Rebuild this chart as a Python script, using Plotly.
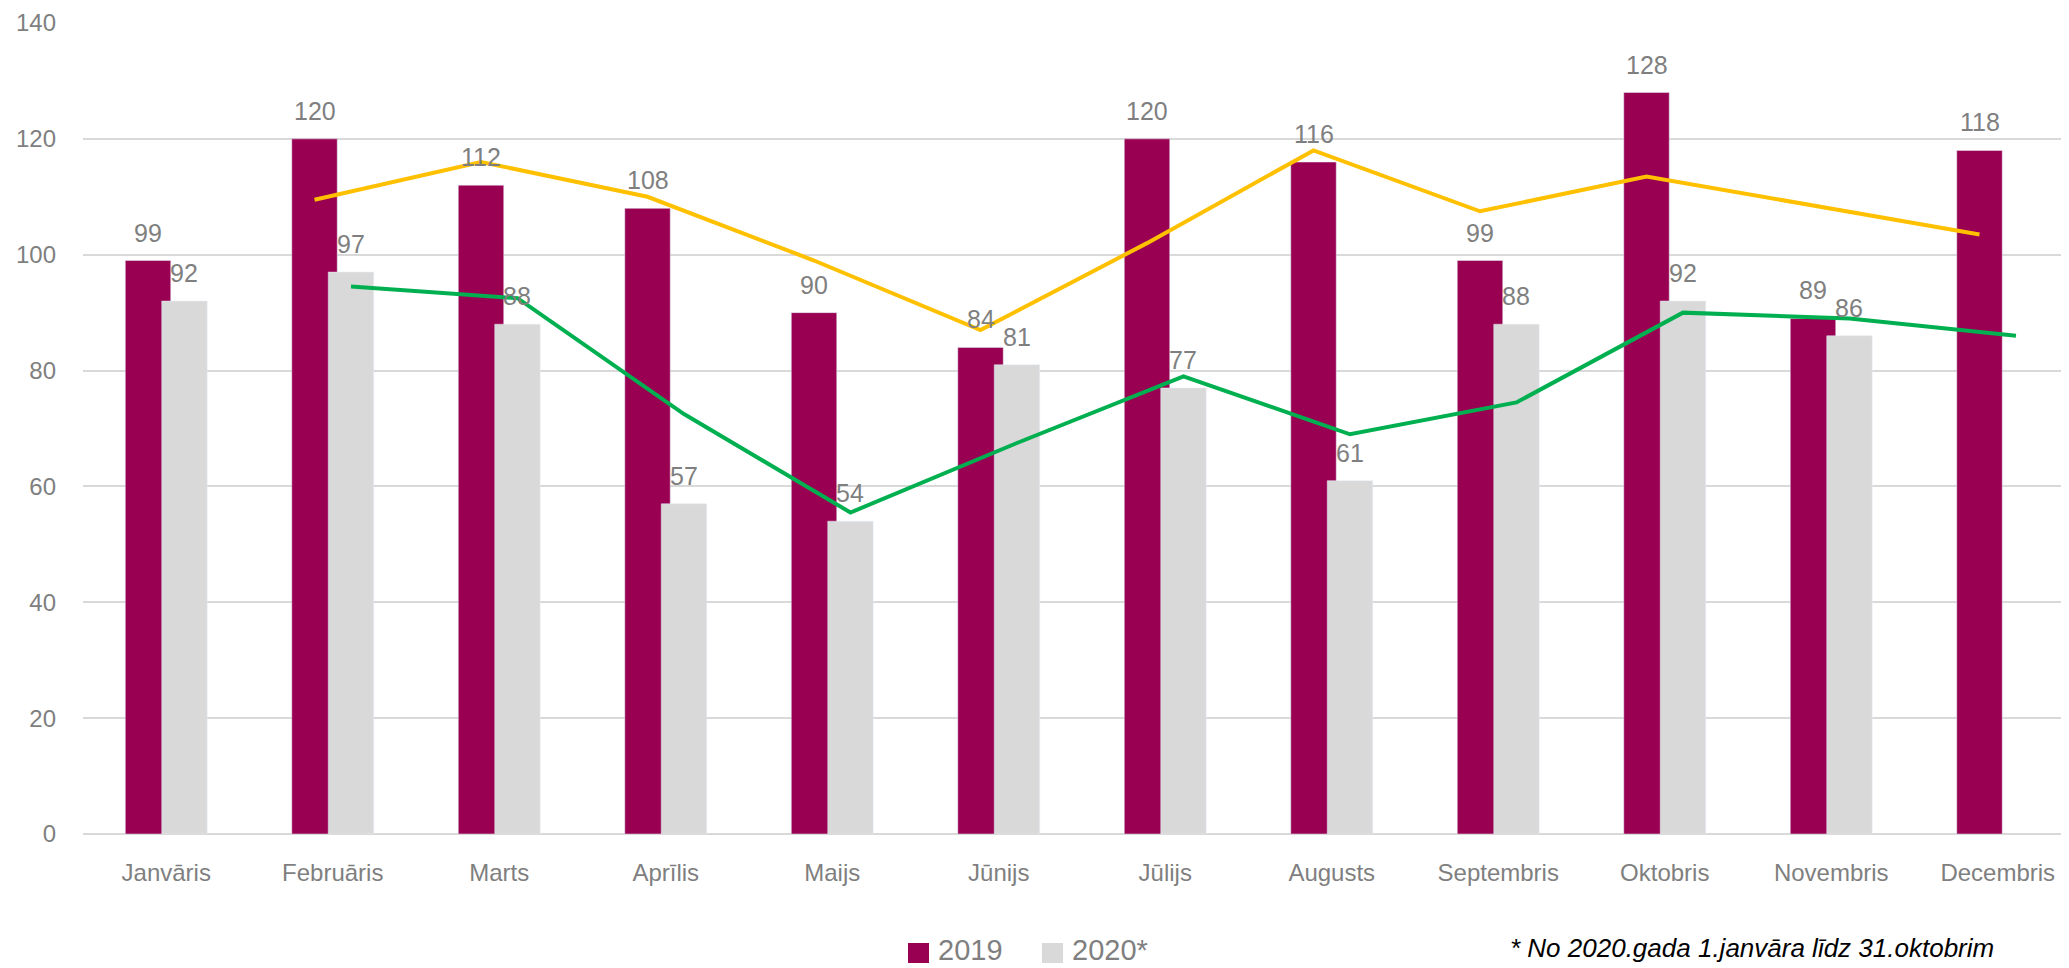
import plotly.graph_objects as go

months = ["Janvāris", "Februāris", "Marts", "Aprīlis", "Maijs", "Jūnijs",
          "Jūlijs", "Augusts", "Septembris", "Oktobris", "Novembris", "Decembris"]
values_2019 = [99, 120, 112, 108, 90, 84, 120, 116, 99, 128, 89, 118]
values_2020 = [92, 97, 88, 57, 54, 81, 77, 61, 88, 92, 86, None]
# two-period moving-average trend lines (Feb..Dec)
trend_2019 = [109.5, 116, 110, 99, 87, 102, 118, 107.5, 113.5, 108.5, 103.5]
trend_2020 = [94.5, 92.5, 72.5, 55.5, 67.5, 79, 69, 74.5, 90, 89, 86]
y_ticks = [0, 20, 40, 60, 80, 100, 120, 140]

C2019 = "#990052"
C2020 = "#D9D9D9"
CY = "#FFC000"
CG = "#00B050"
TXT = "#7F7F7F"
FONT = "Liberation Sans"

BW = 0.273
OFF19 = -0.246
OFF20 = -0.027
CEN19 = OFF19 + BW / 2
CEN20 = OFF20 + BW / 2

idx = list(range(len(months)))

fig = go.Figure()
fig.add_trace(go.Bar(x=idx, y=values_2019, name="2019", marker_color=C2019,
                     width=BW, offset=OFF19, showlegend=False))
fig.add_trace(go.Bar(x=idx, y=values_2020, name="2020*", marker_color=C2020,
                     width=BW, offset=OFF20, showlegend=False))
fig.add_trace(go.Scatter(x=[i + CEN19 for i in idx[1:]], y=trend_2019, mode="lines",
                         line=dict(color=CY, width=4), showlegend=False, hoverinfo="skip"))
fig.add_trace(go.Scatter(x=[i + CEN20 for i in idx[1:]], y=trend_2020, mode="lines",
                         line=dict(color=CG, width=4), showlegend=False, hoverinfo="skip"))

annotations = []
for i, v in zip(idx, values_2019):
    if v is not None:
        annotations.append(dict(x=i + CEN19, y=v, text=str(v), showarrow=False,
                                xanchor="center", yanchor="bottom", yshift=12,
                                font=dict(family=FONT, size=25, color=TXT)))
for i, v in zip(idx, values_2020):
    if v is not None:
        annotations.append(dict(x=i + CEN20, y=v, text=str(v), showarrow=False,
                                xanchor="center", yanchor="bottom", yshift=12,
                                font=dict(family=FONT, size=25, color=TXT)))

# The page body has an 8px margin, so the figure starts at page pixel (8, 8).
OFF = 8
W, H = 2069 - OFF, 968 - OFF
L, R, T, B = 83 - OFF, 0, 23 - OFF, 968 - 834
PW, PH = W - L - R, H - T - B
def px(xp):  # reference page x -> paper
    return (xp - OFF - L) / PW
def py(yp):  # reference page y -> paper
    return (H - B - (yp - OFF)) / PH

# manual legend
shapes = [
    dict(type="rect", xref="paper", yref="paper", x0=px(908), x1=px(929),
         y0=py(963), y1=py(943), fillcolor=C2019, line=dict(width=0)),
    dict(type="rect", xref="paper", yref="paper", x0=px(1042), x1=px(1063),
         y0=py(963), y1=py(943), fillcolor=C2020, line=dict(width=0)),
]
annotations.append(dict(xref="paper", yref="paper", x=px(936), y=py(950), text="2019",
                        showarrow=False, xanchor="left", yanchor="middle",
                        font=dict(family=FONT, size=29, color=TXT)))
annotations.append(dict(xref="paper", yref="paper", x=px(1070), y=py(950), text="2020*",
                        showarrow=False, xanchor="left", yanchor="middle",
                        font=dict(family=FONT, size=29, color=TXT)))
annotations.append(dict(xref="paper", yref="paper", x=px(1508), y=py(948),
                        text="<i>* No 2020.gada 1.janvāra līdz 31.oktobrim</i>",
                        showarrow=False, xanchor="left", yanchor="middle",
                        font=dict(family=FONT, size=26, color="#000000")))

fig.update_layout(
    width=W, height=H,
    margin=dict(l=L, r=R, t=T, b=B, pad=0),
    paper_bgcolor="white", plot_bgcolor="white",
    barmode="overlay",
    annotations=annotations, shapes=shapes,
    xaxis=dict(range=[-0.5, 11.428], tickmode="array", tickvals=idx, ticktext=months,
               showgrid=False, zeroline=False, showline=False, ticks="",
               tickfont=dict(family=FONT, size=24, color=TXT), ticklabelstandoff=22),
    yaxis=dict(range=[0, 140], tickmode="array", tickvals=y_ticks,
               showgrid=True, gridcolor="#D9D9D9", gridwidth=1.5,
               zeroline=True, zerolinecolor="#D9D9D9", zerolinewidth=1.5,
               showline=False, ticks="",
               tickfont=dict(family=FONT, size=24, color=TXT), ticklabelstandoff=26),
)

fig.write_html("out.html")
